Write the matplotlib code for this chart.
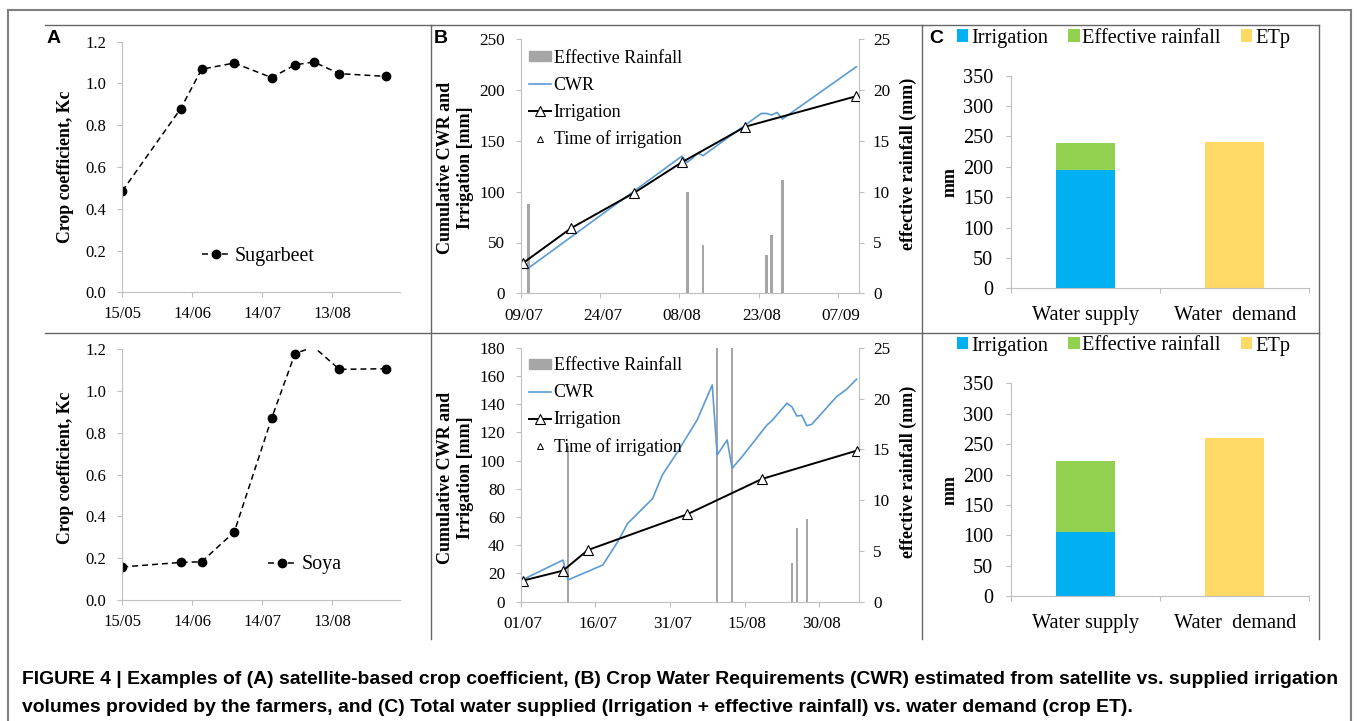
import numpy as np
import pandas as pd
import matplotlib
matplotlib.use("Agg")
import matplotlib.pyplot as plt
import matplotlib.dates as mdates
from matplotlib.lines import Line2D
from matplotlib.patches import Patch
from matplotlib.ticker import MultipleLocator, FormatStrFormatter

plt.rcParams["font.family"] = ["Liberation Serif", "DejaVu Serif"]

# ====== Data ======
# (A) crop coefficient, same acquisition dates for both crops
kc_dates = ["2015-05-15", "2015-06-09", "2015-06-18", "2015-07-02", "2015-07-18",
            "2015-07-28", "2015-08-05", "2015-08-16", "2015-09-05"]
kc_sugarbeet = [0.485, 0.879, 1.068, 1.098, 1.028, 1.089, 1.103, 1.047, 1.034]
kc_soya = [0.158, 0.180, 0.183, 0.326, 0.870, 1.179, 1.212, 1.104, 1.107]

# (B) sugarbeet field
rain_top_dates = ["2015-07-10", "2015-08-09", "2015-08-12", "2015-08-24", "2015-08-25", "2015-08-27"]
rain_top = [8.8, 10.0, 4.8, 3.8, 5.7, 11.2]
irr_top_dates = ["2015-07-09", "2015-07-18", "2015-07-30", "2015-08-08", "2015-08-20", "2015-09-10"]
irr_top = [30, 64, 99, 129, 164, 194]
cwr_top_dates = ["2015-07-09", "2015-07-10", "2015-08-08", "2015-08-09", "2015-08-10", "2015-08-11",
                 "2015-08-12", "2015-08-23", "2015-08-24", "2015-08-25", "2015-08-26", "2015-08-27",
                 "2015-09-10"]
cwr_top = [31, 25, 135, 129, 133, 138, 135.5, 177, 177, 175.5, 178, 171.5, 223]

# (B) soya field
rain_bot_dates = ["2015-07-10", "2015-08-09", "2015-08-12", "2015-08-24", "2015-08-25", "2015-08-27"]
rain_bot = [15.3, 28.0, 26.0, 3.8, 7.3, 8.1]
irr_bot_dates = ["2015-07-01", "2015-07-09", "2015-07-14", "2015-08-03", "2015-08-18", "2015-09-06"]
irr_bot = [15, 22, 36.6, 62, 87, 107]
cwr_bot_dates = ["2015-07-01", "2015-07-09", "2015-07-10", "2015-07-17", "2015-07-20", "2015-07-22",
                 "2015-07-25", "2015-07-27", "2015-07-29", "2015-08-01", "2015-08-05", "2015-08-08",
                 "2015-08-09", "2015-08-11", "2015-08-12", "2015-08-14", "2015-08-19", "2015-08-20",
                 "2015-08-23", "2015-08-24", "2015-08-25", "2015-08-26", "2015-08-27", "2015-08-28",
                 "2015-09-02", "2015-09-04", "2015-09-06"]
cwr_bot = [15.8, 29.5, 15.4, 26, 42.5, 55.5, 66, 73, 90, 106, 129, 153.6,
           104, 114.6, 94.5, 102.8, 125.2, 128.3, 140.6, 138.2, 131.6, 132.1, 124.7, 125.7,
           145.3, 150.5, 157.6]

# (C) water supplied vs demand
water_categories = ["Water supply", "Water  demand"]
c_irr_top = [195, 0]
c_rain_top = [44, 0]
c_etp_top = [0, 241]
c_irr_bot = [106, 0]
c_rain_bot = [117, 0]
c_etp_bot = [0, 260]

caption_1 = ("FIGURE 4 | Examples of (A) satellite-based crop coefficient, (B) Crop Water Requirements "
             "(CWR) estimated from satellite vs. supplied irrigation")
caption_2 = ("volumes provided by the farmers, and (C) Total water supplied (Irrigation + effective "
             "rainfall) vs. water demand (crop ET).")

# ====== Colours ======
AXIS_GREY = "#BFBFBF"
RAIN_GREY = "#A6A6A6"
CWR_BLUE = "#5B9BD5"
IRR_BLUE = "#00B0F0"
RAIN_GREEN = "#92D050"
ETP_YELLOW = "#FFD966"

W, H = 1357, 721
fig = plt.figure(figsize=(W / 100, H / 100), dpi=100)


def fx(px):
    return px / W


def fy(py):
    return 1 - py / H


def axes_px(left, top, right, bottom):
    return fig.add_axes([fx(left), fy(bottom), (right - left) / W, (bottom - top) / H])


def style_spines(ax, sides):
    for s in ["top", "right", "left", "bottom"]:
        if s in sides:
            ax.spines[s].set_color(AXIS_GREY)
            ax.spines[s].set_linewidth(0.8)
        else:
            ax.spines[s].set_visible(False)


# ====== Panel A ======
def kc_panel(ax, values, label, ylab_y, leg_xy):
    dates = pd.to_datetime(kc_dates)
    shown = [i for i, v in enumerate(values) if v <= 1.2]
    ax.plot(dates, values, color="black", lw=1.1, dashes=(3.9, 2.6),
            marker="o", ms=6, markevery=shown)
    ax.set_ylim(0, 1.2)
    ax.set_xlim(pd.Timestamp("2015-05-15"), pd.Timestamp("2015-09-11"))
    ax.set_xticks(pd.date_range("2015-05-15", periods=4, freq="30D"))
    ax.xaxis.set_major_formatter(mdates.DateFormatter("%d/%m"))
    ax.yaxis.set_major_locator(MultipleLocator(0.2))
    ax.yaxis.set_major_formatter(FormatStrFormatter("%.1f"))
    style_spines(ax, ["left", "bottom"])
    ax.tick_params(colors=AXIS_GREY, labelcolor="black", labelsize=12, length=3.6, width=0.8)
    ax.tick_params(axis="y", pad=8)
    ax.tick_params(axis="x", pad=6.5)
    ax.set_ylabel("Crop coefficient, Kc", fontsize=12.8, fontweight="bold", va="center")
    ax.yaxis.set_label_coords(fx(65), fy(ylab_y), transform=fig.transFigure)
    h = Line2D([], [], color="black", lw=1.1, dashes=(3.9, 2.6), marker="o", ms=6)
    ax.legend([h], [label], loc="center left",
              bbox_to_anchor=(fx(leg_xy[0]), fy(leg_xy[1])), bbox_transform=fig.transFigure,
              frameon=False, fontsize=14.4, handlelength=1.42, handletextpad=0.25,
              borderpad=0, borderaxespad=0)


# ====== Panel B ======
def cwr_panel(ax, start, rain_d, rain_v, irr_d, irr_v, cwr_d, cwr_v, ymax, ystep,
              ylab_y, rlab_y, leg_top):
    half = pd.Timedelta(hours=12)
    start = pd.Timestamp(start)
    end = max(pd.to_datetime(cwr_d).max(), pd.to_datetime(irr_d).max()) + pd.Timedelta(days=1)

    ax2 = ax.twinx()
    ax2.bar(pd.to_datetime(rain_d) + half, rain_v, width=0.5, color=RAIN_GREY)
    ax2.set_ylim(0, 25)
    ax.set_zorder(ax2.get_zorder() + 1)
    ax.patch.set_visible(False)

    ax.plot(pd.to_datetime(cwr_d) + half, cwr_v, color=CWR_BLUE, lw=1.2)
    ax.plot(pd.to_datetime(irr_d) + half, irr_v, color="black", lw=1.4, marker="^", ms=6.5,
            mfc="white", mec="black", mew=0.8)
    ax.set_ylim(0, ymax)
    ax.set_xlim(start, end)

    bounds = pd.date_range(start, periods=5, freq="15D")
    ax.set_xticks(bounds + half)
    ax.set_xticks(bounds, minor=True)
    ax.xaxis.set_major_formatter(mdates.DateFormatter("%d/%m"))
    ax.yaxis.set_major_locator(MultipleLocator(ystep))
    ax2.yaxis.set_major_locator(MultipleLocator(5))

    style_spines(ax, ["left", "bottom"])
    style_spines(ax2, ["right"])
    ax.tick_params(colors=AXIS_GREY, labelcolor="black", labelsize=12.3, width=0.8)
    ax.tick_params(axis="y", length=3.6, pad=7.7)
    ax.tick_params(axis="x", which="major", length=0, pad=10.5)
    ax.tick_params(axis="x", which="minor", length=3.6, width=0.8, color=AXIS_GREY)
    ax2.tick_params(colors=AXIS_GREY, labelcolor="black", labelsize=12.3, length=3.6,
                    width=0.8, pad=6.5)

    ax.set_ylabel("Cumulative CWR and\nIrrigation [mm]", fontsize=13, fontweight="bold",
                  va="center", linespacing=1.3)
    ax.yaxis.set_label_coords(fx(455.5), fy(ylab_y), transform=fig.transFigure)
    ax2.set_ylabel("effective rainfall (mm)", fontsize=13, fontweight="bold", va="center")
    ax2.yaxis.set_label_coords(fx(908), fy(rlab_y), transform=fig.transFigure)

    handles = [Patch(color=RAIN_GREY),
               Line2D([], [], color=CWR_BLUE, lw=1.2),
               Line2D([], [], color="black", lw=1.4, marker="^", ms=6.5, mfc="white",
                      mec="black", mew=0.8),
               Line2D([], [], ls="none", marker="^", ms=4.5, mfc="white", mec="black", mew=0.7)]
    labels = ["Effective Rainfall", "CWR", "Irrigation", "Time of irrigation"]
    ax.legend(handles, labels, loc="upper left", bbox_to_anchor=(fx(529), fy(leg_top)),
              bbox_transform=fig.transFigure, frameon=False, fontsize=13, handlelength=1.2,
              handleheight=0.45, handletextpad=0.17, labelspacing=0.55, borderpad=0,
              borderaxespad=0)


# ====== Panel C ======
def water_panel(ax, irr, rain, etp, ylab_y, leg_y):
    x = np.arange(len(water_categories))
    ax.bar(x, irr, width=0.395, color=IRR_BLUE, label="Irrigation")
    ax.bar(x, rain, width=0.395, bottom=irr, color=RAIN_GREEN, label="Effective rainfall")
    ax.bar(x, etp, width=0.395, color=ETP_YELLOW, label="ETp")
    ax.set_xlim(-0.5, len(water_categories) - 0.5)
    ax.set_ylim(0, 350)
    ax.yaxis.set_major_locator(MultipleLocator(50))
    ax.set_xticks(x)
    ax.set_xticklabels(water_categories)
    ax.set_xticks(np.arange(len(water_categories) + 1) - 0.5, minor=True)
    style_spines(ax, ["left", "bottom"])
    ax.tick_params(colors=AXIS_GREY, labelcolor="black", labelsize=14.6, width=0.8)
    ax.tick_params(axis="y", length=3.6, pad=8.9)
    ax.tick_params(axis="x", which="major", length=0, pad=12.5)
    ax.tick_params(axis="x", which="minor", length=3.6, width=0.8, color=AXIS_GREY)
    ax.set_ylabel("mm", fontsize=13, fontweight="bold", va="center")
    ax.yaxis.set_label_coords(fx(950), fy(ylab_y), transform=fig.transFigure)
    ax.legend(loc="center left", ncol=3, bbox_to_anchor=(fx(957), fy(leg_y)),
              bbox_transform=fig.transFigure, frameon=False, fontsize=14.7,
              handlelength=0.55, handleheight=0.55, handletextpad=0.13, columnspacing=1.0,
              borderpad=0, borderaxespad=0)


axA1 = axes_px(122.3, 41.7, 400, 292.3)
kc_panel(axA1, kc_sugarbeet, "Sugarbeet", 167, (201.7, 256))
axA2 = axes_px(122.3, 349.3, 400, 600)
kc_panel(axA2, kc_soya, "Soya", 468, (268, 565))

axB1 = axes_px(520.7, 39.3, 859, 293.3)
cwr_panel(axB1, "2015-07-09", rain_top_dates, rain_top, irr_top_dates, irr_top,
          cwr_top_dates, cwr_top, 250, 50, 168, 164, 49.7)
axB2 = axes_px(520.7, 347.7, 859, 601.7)
cwr_panel(axB2, "2015-07-01", rain_bot_dates, rain_bot, irr_bot_dates, irr_bot,
          cwr_bot_dates, cwr_bot, 180, 20, 478, 472, 357.3)

axC1 = axes_px(1010.7, 75.7, 1309.3, 288.3)
water_panel(axC1, c_irr_top, c_rain_top, c_etp_top, 182, 38.3)
axC2 = axes_px(1010.7, 383.3, 1309.3, 596.3)
water_panel(axC2, c_irr_bot, c_rain_bot, c_etp_bot, 490, 346)

# ====== Frame ======
def frame_line(x0, y0, x1, y1, color, lw):
    fig.add_artist(Line2D([fx(x0), fx(x1)], [fy(y0), fy(y1)], transform=fig.transFigure,
                          color=color, lw=lw))


frame_line(8, 10, 1351, 10, "#808080", 1.5)
frame_line(8, 10, 8, 721, "#808080", 1.5)
frame_line(1351, 10, 1351, 721, "#808080", 1.5)
frame_line(45, 25, 1319, 25, "#666666", 1.0)
frame_line(45, 333, 1319, 333, "#666666", 1.0)
for xv in [431, 922, 1319]:
    frame_line(xv, 25, xv, 639, "#666666", 1.0)

for letter, xp in [("A", 47), ("B", 434), ("C", 929)]:
    fig.text(fx(xp), fy(43), letter, fontfamily="Liberation Sans", fontweight="bold",
             fontsize=14, va="baseline", ha="left")

fig.text(fx(22), fy(680), caption_1, fontfamily="Liberation Sans", fontweight="bold",
         fontsize=13.95, va="center", ha="left")
fig.text(fx(22), fy(707), caption_2, fontfamily="Liberation Sans", fontweight="bold",
         fontsize=13.95, va="center", ha="left")

fig.savefig("out.png", dpi=100)
